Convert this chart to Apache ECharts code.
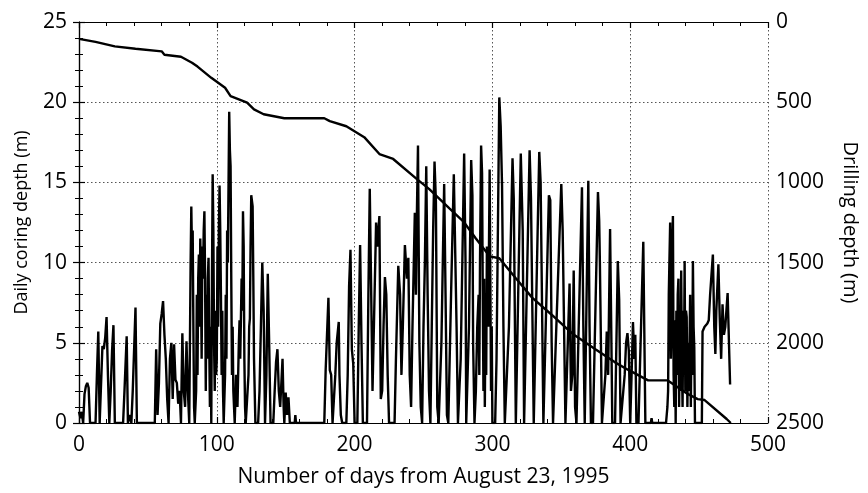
<!DOCTYPE html>
<html>
<head>
<meta charset="utf-8">
<script src="https://cdn.jsdelivr.net/npm/echarts@6/dist/echarts.min.js"></script>
<style>html,body{margin:0;padding:0;background:#fff}#c{width:868px;height:493px}</style>
</head>
<body>
<div id="c"></div>
<script>
// Daily coring depth (m) vs day: [day, metres]
const coringDepth = [
[0,0.7],[1,0.3],[2,0.7],[3,0],[4,1.8],[5,2.3],[6,2.5],[7,2.2],[8,0],
[12,0],[13,3],[14,5.7],[15,0],[16,0],[17,4.8],[18,4.6],[19,5.3],[20,6.6],[21,3],[22,0],[23,2],[24,4.5],[25,6.1],[26,0],
[32,0],[33,2],[34.6,5.4],[35.5,0],[37,0.5],[38,0],[39,2],[41,7.2],[42,0],
[55,0],[56,4.6],[57,0.5],[58,2.5],[59,6.2],[60,6.8],[61,7.6],[62,5.5],[63,4.0],[64,1.5],[65,0],[66,4],[67,5.0],[68,1.5],[69,4.9],[70,2.7],[71,2.5],[72,1.2],[73,2],[74,0],[75,5.6],[76,2],[77,1],[78,5.1],[79,2],[80,0],
[81,10],[81.5,13.5],[82,10.6],[82.5,12],[83,6],[83.5,1],[84,0],[85,2],[85.5,8],[86,3],[86.5,9],[87,10.5],[87.5,6],[88,11.5],[88.5,9],[89,4],[89.5,11],[90,9],[90.5,12],[91,13.2],[91.5,9],[92,2],[92.5,8],[93,4],[93.5,9],[94,10.3],[94.5,5],[95,1],[95.5,6],[96,0],[96.5,9],[97,15.5],[97.5,12],[98,5],[98.5,2],[99,7],[99.5,3],[100,4],[100.5,11],[101,6],[101.5,12],[102,14.8],[102.5,12],[103,8],[103.5,3],[104,7],[104.5,2],[105,0],[106,3],[106.5,8],[107,4],[107.5,12],[108,10],[109,19.4],[109.5,17],[110,16],[110.5,9],[111,3],[111.5,6],[112,2],[113,0],[114,3],[115,1],[116,5],[116.5,6.4],[117,4],[118,9],[118.5,7],[119,13.2],[119.5,11],[120,4],[120.5,1],[121,0],[122,0],[123,3],[123.5,6],[124,6.5],[124.5,11],[125,14.2],[126,13.5],[126.5,9],[127,4],[128,0],
[130,0],[131,2],[132,6],[133,10.0],[134,7],[135,0],[136,3],[137,9.3],[138,5],[139,0],[141,0],[142,2],[143,3.8],[144,4.6],[145,2],[146,1],[147.7,4.0],[148.5,1],[149,0],[150,1.9],[151,0.5],[152,1.6],[153,0],
[156.5,0],[157,0.5],[157.5,0],
[178,0],[179,3.3],[181,7.8],[182,3.3],[183,3],[184,0],[185,0],[186,3],[187,5],[188.5,6.3],[189,3],[190,0.5],[191,0],[192,0],
[194,0],[195,3],[196,8.5],[197,10.8],[198,4.6],[199,3.7],[200,0],[202,0],[203,6],[204,11.1],[205,5],[206,0],[209,0],[210,8],[211,14.6],[212,8.4],[213,2],[214,6],[215.6,12.5],[216.5,11],[218,12.9],[219,1.5],[220,2],[221,6],[222,9.1],[223,8.0],[224,3],[225,0],[229,0],[230,4],[231.7,9.8],[233,8.0],[234,3],[235,6],[236.5,11.1],[238,9],[239,10.3],[240,3],[241,1],[242,6],[243.7,13.1],[244.5,8],[245,12],[246,17.3],[247,5],[248,1],[249,0],[250,6],[251,10],[252,16.0],[253,8],[254,2],[255,0],[256,6],[257,12],[258,16.3],[259,13.8],[260,1],[261,0],[263,5],[264,10],[265,14.9],[266,8],[267,0.5],[268,0],[270,8],[272,15.5],[273,15.6],[274,6],[275,0],[277,4],[279.5,16.8],[280.5,10],[281,0],[282,0],[283,6],[284.6,16.4],[285.5,14.2],[286,5],[287,0],
[288,2],[289,6],[290,8],[290.5,3],[291,10],[291.8,17.3],[292.5,15.6],[293,8],[293.5,2],[294,9],[294.5,1],[295,7],[295.5,3],[296,11],[297,6],[298,15.8],[298.5,9],[299,2],[299.5,6],[300,0],
[302,0],[303,4],[305,20.3],[306,18.5],[307,14.8],[308,6],[309,0],[310,0],[312,6],[314.6,16.5],[315.5,14],[317,0],[318,0],[320.6,16.8],[322,12],[323,0],[324,0],[327,17.0],[328,14],[330,0],[331,0],[334,16.9],[335,15],[337,0],[338,0],[341,14.2],[342,13.9],[343,5],[344,0],[345,0],[348,10],[350,14.9],[351,12],[353,0],[354,0],[356,8.7],[357,2],[358,3],[359,9.5],[360,1],[361,0],[362,0],[365,14.7],[366,6],[367,0],[368,0],[369.6,15.1],[370.5,6],[371.5,0],[373,0],[376.6,14.4],[377.5,12.6],[378,10],[379.5,0],[380,0],[382,3],[383,5.7],[384,3],[385.4,12.1],[386.5,4],[387,0],[389,0],[391,10.1],[392,7.7],[393,0],[394,0],[396,3],[397,5],[398,5.6],[399,4.5],[400,0],[401,3],[402,6.3],[403,4],[403.7,5.5],[404.5,0],[406,0],[409.5,11.3],[411,0],
[415,0],[415.5,0.3],[416,0],
[426,0],[427,1],[427.5,2],[428,8],[429,12.5],[429.5,4],[430,6],[430.5,11],[431,12.9],[431.5,3],[432,1],[432.5,6.4],[433,0],[433.5,7],[434,3],[434.5,8],[435,9],[435.5,1],[436,6],[436.5,2],[437,9.5],[437.5,4],[438,1],[438.5,7],[439,3],[439.5,10.1],[440,2],[440.5,7],[441,6.6],[441.5,1],[442,5],[442.5,2],[443,4.5],[443.5,8],[444,1],[444.5,6],[445,3],[445.5,10.1],[446,6],[446.5,4.7],[447,0],[448,0],
[452,0],[452.5,5.7],[454,6.0],[456,6.2],[457,6.4],[458,8],[460,10.5],[461,6],[461.8,4.3],[462.5,7],[464,9.9],[465,6.5],[466,4],[467,7.4],[468,5.5],[469,6],[470.7,8.1],[472.5,2.4]
];

// Cumulative drilling depth (m) vs day: [day, metres]
const drillingDepth = [
[0,105],[12,124],[26,152],[41,167],[60,183],[62,204],[74,217],[82,254],[86,278],[96,348],[106,410],[110,462],[122,503],[127,545],[134,575],[149,600],[178,600],[182,618],[194,650],[207,718],[218,823],[228,854],[245,978],[254,1040],[269,1163],[279,1244],[288,1350],[298,1461],[305,1473],[317,1597],[329,1720],[343,1825],[355,1920],[360,1955],[375,2042],[389,2122],[398,2166],[413,2234],[427,2234],[442,2320],[449,2351],[454,2357],[470,2475],[473,2500]
];

const xTicks = [0,100,200,300,400,500];
const leftTicks = [0,5,10,15,20,25];
const rightTicks = [0,500,1000,1500,2000,2500];

const FONT = '"Open Sans", "DejaVu Sans", sans-serif';
const chart = echarts.init(document.getElementById('c'), null, {renderer:'canvas'});
const gridLine = {show:true, lineStyle:{color:'#555', type:[1.5,2.5], width:1}};
const axLine = {show:true, lineStyle:{color:'#000', width:1.2}};
const tick = {show:true, inside:true, length:6, lineStyle:{color:'#000', width:1.2}};
const minor = {show:true, splitNumber:5, length:4, lineStyle:{color:'#000', width:1}};

chart.setOption({
  animation:false,
  backgroundColor:'#fff',
  grid:{left:79, right:95, top:22, bottom:67, show:false},
  xAxis:[
    {type:'value', min:xTicks[0], max:xTicks[xTicks.length-1], interval:100, position:'bottom',
     axisLine:axLine, axisTick:tick, minorTick:minor, splitLine:gridLine,
     axisLabel:{color:'#000', fontSize:21, fontFamily:FONT, margin:12, formatter:v=>String(v)},
     name:'Number of days from August 23, 1995', nameLocation:'middle', nameGap:44,
     nameTextStyle:{color:'#000', fontSize:21, fontFamily:FONT}},
    {type:'value', min:xTicks[0], max:xTicks[xTicks.length-1], interval:100, position:'top',
     axisLine:axLine, axisTick:tick, minorTick:minor, splitLine:{show:false},
     axisLabel:{show:false}}
  ],
  yAxis:[
    {type:'value', min:leftTicks[0], max:leftTicks[leftTicks.length-1], interval:5, position:'left',
     axisLine:axLine, axisTick:tick, minorTick:minor, splitLine:gridLine,
     axisLabel:{color:'#000', fontSize:21, fontFamily:FONT, margin:12, formatter:v=>String(v)},
     name:'Daily coring depth (m)', nameLocation:'middle', nameGap:48,
     nameTextStyle:{color:'#000', fontSize:18, fontFamily:FONT}},
    {type:'value', min:rightTicks[0], max:rightTicks[rightTicks.length-1], interval:500, position:'right', inverse:true,
     axisLine:axLine, axisTick:tick, minorTick:minor, splitLine:{show:false},
     axisLabel:{color:'#000', fontSize:21, fontFamily:FONT, margin:8, formatter:v=>String(v)},
     name:'Drilling depth (m)', nameLocation:'middle', nameGap:72, nameRotate:-90,
     nameTextStyle:{color:'#000', fontSize:20, fontFamily:FONT}}
  ],
  series:[
    {type:'line', xAxisIndex:0, yAxisIndex:0, data:coringDepth, symbol:'none',
     lineStyle:{color:'#000', width:2.4}, z:3},
    {type:'line', xAxisIndex:0, yAxisIndex:1, data:drillingDepth, symbol:'none',
     lineStyle:{color:'#000', width:2.4}, z:4}
  ]
});
</script>
</body>
</html>
